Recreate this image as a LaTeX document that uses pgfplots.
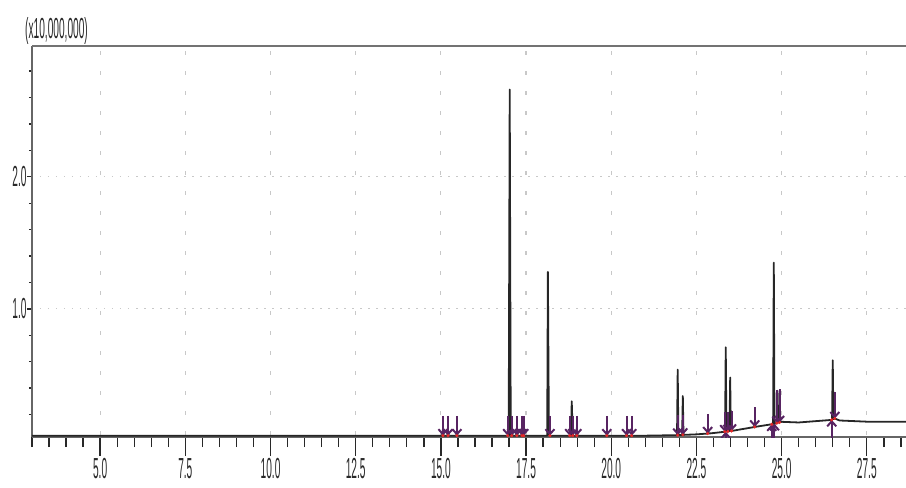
\documentclass[border=0pt]{standalone}
\usepackage{fontspec}
\usepackage{pgfplots}
\pgfplotsset{compat=1.18}
\usetikzlibrary{arrows.meta}
\newfontfamily\condfont[FakeStretch=0.35]{Liberation Sans}
\newcommand{\tickfont}{\condfont\fontsize{29bp}{31bp}\selectfont}
\definecolor{arrowc}{RGB}{88,36,98}
\definecolor{dotc}{RGB}{230,40,40}
\definecolor{gridc}{RGB}{200,200,200}
\definecolor{axc}{RGB}{40,40,40}
\begin{document}
\begin{tikzpicture}
\useasboundingbox (-32bp,-51bp) rectangle (874bp,437bp);
\begin{axis}[
  name=ax,
  at={(0,0)}, anchor=south west,
  scale only axis, width=874bp, height=391bp,
  xmin=3.0, xmax=28.65, ymin=0.03, ymax=2.99,
  axis lines=left, axis line style={-, line width=1.8bp, draw=black!60},
  xtick={5,7.5,...,27.5},
  minor xtick={3,3.5,...,28.5},
  ytick={1,2},
  minor ytick={0.2,0.4,0.6,0.8,1.2,1.4,1.6,1.8,2.2,2.4,2.6,2.8},
  tick align=outside,
  xtick style={draw=axc, line width=1.3bp, /pgfplots/major tick length=19bp, /pgfplots/minor tick length=10bp},
  ytick style={draw=axc, line width=1.3bp, /pgfplots/major tick length=5bp, /pgfplots/minor tick length=3bp},
  xmajorgrids, ymajorgrids,
  x grid style={draw=gridc, line width=1.2bp, dash pattern=on 4bp off 16bp, dash phase=-2bp},
  y grid style={draw=gridc, line width=1.2bp, dash pattern=on 1.5bp off 6.5bp},
  /pgf/number format/assume math mode=true,
  /pgf/number format/.cd, fixed, fixed zerofill, precision=1, /pgfplots/.cd,
  ticklabel style={font=\tickfont, text=axc},
  xticklabel style={inner sep=0pt, yshift=-17bp},
  yticklabel style={inner sep=1bp},
  clip=true,
]
% chromatogram
\addplot[draw=black!85, line width=1.8bp, line join=round] coordinates {
(3.0,0.04) (15.04,0.04) (15.06,0.09) (15.08,0.04)
(15.19,0.04) (15.21,0.08) (15.23,0.04)
(15.45,0.04) (15.47,0.065) (15.49,0.04)
(16.99,0.04) (17.02,2.66) (17.05,0.04)
(17.06,0.04) (17.08,0.10) (17.10,0.04)
(17.21,0.04) (17.23,0.09) (17.25,0.04)
(17.36,0.04) (17.38,0.09) (17.40,0.04)
(18.12,0.04) (18.14,1.28) (18.17,0.04)
(18.82,0.04) (18.84,0.30) (18.87,0.04)
(18.97,0.04) (18.99,0.10) (19.01,0.04)
(19.86,0.04) (19.87,0.06) (19.89,0.04)
(20.44,0.04) (20.45,0.06) (20.47,0.04)
(21.0,0.04)
(21.93,0.044) (21.95,0.54) (21.97,0.044)
(22.08,0.046) (22.10,0.34) (22.12,0.046)
(22.5,0.05)
(22.82,0.056) (22.84,0.08) (22.86,0.056)
(23.0,0.06)
(23.34,0.07) (23.36,0.71) (23.38,0.071)
(23.47,0.074) (23.49,0.48) (23.51,0.075)
(24.19,0.105) (24.21,0.13) (24.23,0.107)
(24.7,0.126)
(24.75,0.128) (24.77,1.35) (24.79,0.13)
(24.86,0.135) (24.88,0.38) (24.90,0.14)
(25.0,0.145) (25.5,0.14) (26.4,0.158)
(26.48,0.16) (26.50,0.61) (26.52,0.165)
(26.56,0.17) (26.7,0.155) (27.5,0.146) (28.65,0.146)
};
% downward peak markers
\addplot[draw=arrowc, line width=2bp, -{Straight Barb[length=5bp,width=9bp]},
  quiver={u=0, v=\thisrow{v}}] table[x=x, y=y] {
x y v
15.06 0.19 -0.15
15.21 0.19 -0.15
15.47 0.19 -0.15
16.96 0.19 -0.15
17.08 0.19 -0.15
17.23 0.19 -0.15
17.38 0.19 -0.15
17.43 0.19 -0.15
18.20 0.19 -0.15
18.78 0.19 -0.15
18.87 0.19 -0.15
18.99 0.19 -0.15
19.87 0.19 -0.15
20.45 0.19 -0.15
20.60 0.19 -0.15
21.95 0.194 -0.15
22.10 0.196 -0.15
22.83 0.206 -0.15
23.33 0.22 -0.15
23.42 0.222 -0.15
23.53 0.226 -0.15
24.21 0.256 -0.15
24.86 0.385 -0.25
24.94 0.39 -0.25
26.56 0.37 -0.20
};
% upward peak markers
\addplot[draw=arrowc, line width=2bp, -{Straight Barb[length=5bp,width=9bp]},
  quiver={u=0, v=\thisrow{v}}] table[x=x, y=y] {
x y v
23.36 0.00 0.07
24.71 0.00 0.126
24.79 0.00 0.13
26.47 0.00 0.16
};
% integration points
\addplot[only marks, mark=*, mark size=1.4bp, draw=dotc, fill=dotc] table {
15.06 0.04
15.21 0.04
15.47 0.04
16.96 0.04
17.08 0.04
17.23 0.04
17.38 0.04
17.43 0.04
18.20 0.04
18.78 0.04
18.87 0.04
18.99 0.04
19.87 0.04
20.45 0.04
20.60 0.04
21.95 0.044
22.10 0.046
22.83 0.056
23.33 0.07
23.42 0.072
23.53 0.076
24.21 0.106
24.71 0.126
24.86 0.135
24.94 0.14
26.47 0.16
26.56 0.17
};
\end{axis}
\draw[draw=black!55, line width=1.6bp] (ax.north west) -- (ax.north east);
\node[anchor=south west, inner sep=0pt, font=\tickfont, text=axc] at ([xshift=-7bp, yshift=1bp]ax.north west) {(x10,000,000)};
\end{tikzpicture}
\end{document}
